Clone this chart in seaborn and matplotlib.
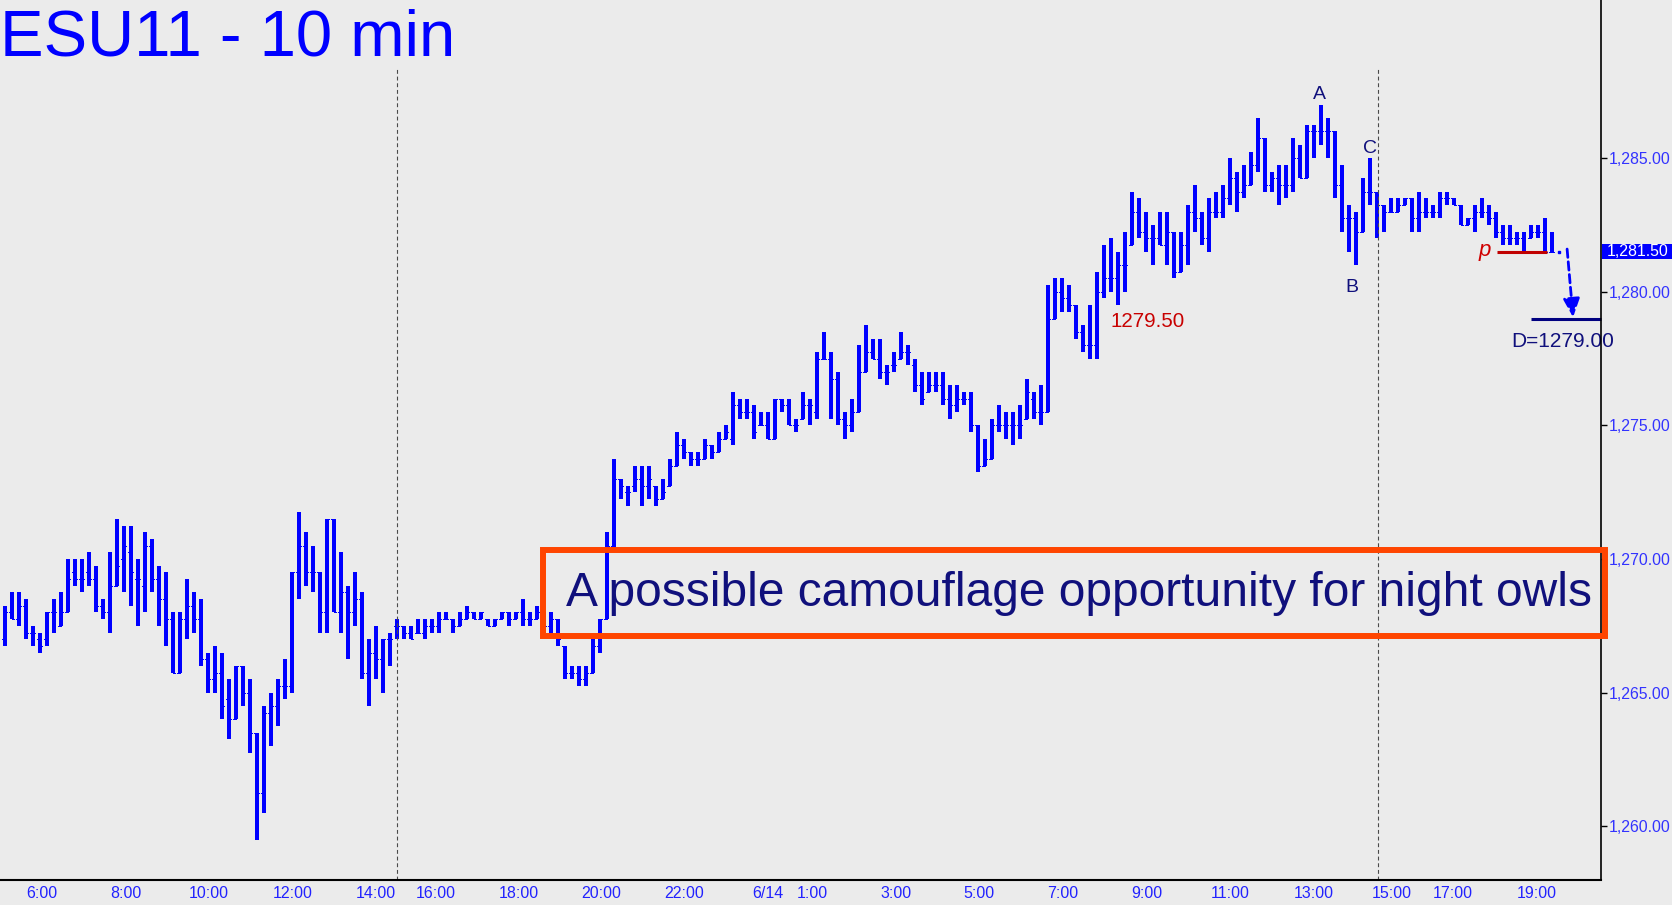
import matplotlib
matplotlib.use("Agg")
import matplotlib.pyplot as plt
import matplotlib.patches as mpatches
import matplotlib.transforms as mtransforms
from matplotlib.ticker import FuncFormatter
import numpy as np
import pandas as pd
import seaborn as sns

# Theme first, fonts after (set_theme resets font.family)
sns.set_theme(style="white")
plt.rcParams["font.family"] = ["Liberation Sans", "DejaVu Sans"]

# ==========================================
# DATA: ESU11 10-minute bars
# ==========================================
highs = [
    1268.25, 1268.75, 1268.75, 1268.5, 1267.5, 1267.25, 1268.0, 1268.5, 1268.75, 1270.0,
    1270.0, 1270.0, 1270.25, 1269.75, 1268.5, 1270.25, 1271.5, 1271.25, 1271.25, 1270.0,
    1271.0, 1270.75, 1269.75, 1269.5, 1268.0, 1268.0, 1269.25, 1268.75, 1268.5, 1266.5,
    1266.75, 1266.5, 1265.5, 1266.0, 1266.0, 1265.5, 1263.5, 1264.5, 1265.0, 1265.5,
    1266.25, 1269.5, 1271.75, 1271.0, 1270.5, 1269.5, 1271.5, 1271.5, 1270.25, 1269.0,
    1269.5, 1268.75, 1267.0, 1267.5, 1267.0, 1267.25, 1267.75, 1267.5, 1267.5, 1267.75,
    1267.75, 1267.75, 1268.0, 1268.0, 1267.75, 1268.0, 1268.25, 1268.0, 1268.0, 1267.75,
    1267.75, 1268.0, 1268.0, 1268.0, 1268.5, 1268.0, 1268.25, 1268.0, 1268.0, 1267.75,
    1266.75, 1266.0, 1266.0, 1266.0, 1267.0, 1267.75, 1271.0, 1273.75, 1273.0, 1272.75,
    1273.5, 1273.5, 1273.5, 1272.75, 1273.0, 1273.75, 1274.75, 1274.5, 1274.0, 1274.0,
    1274.5, 1274.25, 1274.75, 1275.0, 1276.25, 1276.0, 1276.0, 1275.75, 1275.5, 1275.5,
    1276.0, 1276.0, 1276.0, 1275.25, 1276.25, 1276.0, 1277.75, 1278.5, 1277.75, 1277.0,
    1275.5, 1276.0, 1278.0, 1278.75, 1278.25, 1278.25, 1277.25, 1277.75, 1278.5, 1278.0,
    1277.5, 1277.0, 1277.0, 1277.0, 1277.0, 1276.5, 1276.5, 1276.25, 1276.25, 1275.0,
    1274.5, 1275.25, 1275.75, 1275.5, 1275.5, 1275.75, 1276.75, 1276.25, 1276.5, 1280.25,
    1280.5, 1280.5, 1280.25, 1279.5, 1278.75, 1279.5, 1280.75, 1281.75, 1282.0, 1281.5,
    1282.25, 1283.75, 1283.5, 1283.0, 1282.5, 1283.0, 1283.0, 1282.25, 1282.25, 1283.25,
    1284.0, 1283.0, 1283.5, 1283.75, 1284.0, 1285.0, 1284.5, 1284.75, 1285.25, 1286.5,
    1285.75, 1284.5, 1284.75, 1284.75, 1285.75, 1285.5, 1286.25, 1286.25, 1287.0, 1286.5,
    1286.0, 1284.75, 1283.25, 1283.0, 1284.25, 1285.0, 1283.75, 1283.25, 1283.5, 1283.5,
    1283.5, 1283.5, 1283.75, 1283.5, 1283.25, 1283.75, 1283.75, 1283.5, 1283.25, 1282.75,
    1283.25, 1283.5, 1283.25, 1283.0, 1282.5, 1282.5, 1282.25, 1282.25, 1282.5, 1282.5,
    1282.75, 1282.25,
]

lows = [
    1266.75, 1267.75, 1267.5, 1267.0, 1266.75, 1266.5, 1266.75, 1267.25, 1267.5, 1268.0,
    1269.0, 1268.75, 1269.0, 1268.0, 1267.75, 1267.25, 1269.0, 1268.75, 1268.25, 1267.5,
    1268.0, 1268.75, 1267.5, 1266.75, 1265.75, 1265.75, 1267.0, 1267.25, 1266.0, 1265.0,
    1265.0, 1264.0, 1263.25, 1264.0, 1264.5, 1262.75, 1259.5, 1260.5, 1263.0, 1263.75,
    1264.75, 1265.0, 1268.5, 1269.0, 1268.75, 1267.25, 1267.25, 1268.0, 1267.25, 1266.25,
    1267.5, 1265.5, 1264.5, 1265.5, 1265.0, 1266.0, 1267.0, 1267.0, 1267.0, 1267.25,
    1267.0, 1267.25, 1267.25, 1267.75, 1267.25, 1267.5, 1267.75, 1267.75, 1267.75, 1267.5,
    1267.5, 1267.75, 1267.5, 1267.75, 1267.5, 1267.5, 1267.75, 1267.25, 1267.25, 1266.75,
    1265.5, 1265.5, 1265.25, 1265.25, 1265.75, 1266.5, 1267.75, 1270.25, 1272.25, 1272.0,
    1272.5, 1272.0, 1272.25, 1272.0, 1272.25, 1272.75, 1273.5, 1273.75, 1273.5, 1273.5,
    1273.75, 1273.75, 1274.0, 1274.5, 1274.25, 1275.25, 1275.25, 1274.5, 1275.0, 1274.5,
    1274.5, 1275.5, 1275.0, 1274.75, 1275.25, 1275.0, 1275.25, 1277.5, 1275.25, 1275.0,
    1274.5, 1274.75, 1275.5, 1277.0, 1277.5, 1276.75, 1276.5, 1277.0, 1277.5, 1277.25,
    1276.25, 1275.75, 1276.25, 1276.25, 1275.75, 1275.25, 1275.5, 1275.75, 1274.75, 1273.25,
    1273.5, 1273.75, 1274.75, 1274.5, 1274.25, 1274.5, 1275.25, 1275.25, 1275.0, 1275.5,
    1279.0, 1279.25, 1279.25, 1278.25, 1277.75, 1277.5, 1277.5, 1279.75, 1280.0, 1279.5,
    1280.0, 1281.75, 1282.0, 1281.5, 1281.0, 1281.75, 1281.0, 1280.5, 1280.75, 1281.0,
    1282.25, 1281.75, 1281.5, 1282.75, 1282.75, 1283.25, 1283.0, 1283.5, 1284.0, 1284.5,
    1283.75, 1283.75, 1283.25, 1283.5, 1283.75, 1284.25, 1284.25, 1285.0, 1285.5, 1285.0,
    1283.5, 1282.25, 1281.5, 1281.0, 1282.25, 1283.25, 1282.0, 1282.25, 1283.0, 1283.0,
    1283.25, 1282.25, 1282.25, 1282.75, 1282.75, 1282.75, 1283.25, 1283.25, 1282.5, 1282.5,
    1282.25, 1282.75, 1282.5, 1282.0, 1281.75, 1281.75, 1281.75, 1281.5, 1282.0, 1282.0,
    1281.5, 1281.5,
]

opens = [
    1267.0, 1268.0, 1267.75, 1268.25, 1267.25, 1267.0, 1267.0, 1268.0, 1267.5, 1268.0,
    1269.5, 1269.25, 1269.5, 1269.25, 1268.25, 1268.0, 1269.0, 1270.0, 1270.25, 1269.25,
    1269.0, 1270.5, 1269.25, 1268.5, 1267.75, 1265.75, 1267.75, 1268.25, 1267.75, 1266.25,
    1265.5, 1265.75, 1264.75, 1264.0, 1266.0, 1265.0, 1263.5, 1261.25, 1264.25, 1264.5,
    1265.25, 1265.25, 1269.5, 1270.5, 1269.5, 1269.5, 1268.0, 1271.5, 1268.0, 1268.75,
    1268.0, 1268.5, 1265.75, 1266.5, 1266.25, 1267.0, 1267.5, 1267.5, 1267.25, 1267.25,
    1267.25, 1267.5, 1267.5, 1267.75, 1267.75, 1267.5, 1267.75, 1268.0, 1267.75, 1267.75,
    1267.5, 1267.75, 1268.0, 1267.75, 1268.0, 1267.75, 1267.75, 1268.0, 1267.5, 1267.75,
    1266.75, 1265.75, 1265.75, 1265.5, 1265.75, 1266.75, 1267.75, 1270.5, 1273.0, 1272.5,
    1272.75, 1273.0, 1272.75, 1272.75, 1272.25, 1272.75, 1273.5, 1274.25, 1274.0, 1273.75,
    1273.75, 1274.25, 1274.0, 1274.5, 1274.5, 1275.75, 1275.5, 1275.5, 1275.0, 1275.0,
    1274.5, 1276.0, 1275.75, 1275.0, 1275.25, 1275.75, 1275.5, 1277.5, 1277.5, 1276.75,
    1275.25, 1275.0, 1275.5, 1277.0, 1277.75, 1277.5, 1277.0, 1277.25, 1277.5, 1277.75,
    1277.25, 1276.5, 1276.25, 1276.5, 1276.5, 1276.0, 1275.75, 1276.0, 1276.0, 1275.0,
    1273.5, 1273.75, 1275.0, 1275.0, 1275.0, 1275.0, 1275.25, 1276.0, 1275.5, 1275.5,
    1279.0, 1280.0, 1279.75, 1279.5, 1278.5, 1278.0, 1278.0, 1280.0, 1280.5, 1280.5,
    1281.0, 1281.75, 1283.0, 1282.25, 1282.0, 1282.0, 1281.75, 1282.25, 1280.75, 1281.75,
    1283.0, 1282.75, 1282.0, 1283.0, 1283.0, 1283.5, 1284.25, 1283.75, 1284.0, 1284.75,
    1285.75, 1284.0, 1284.25, 1284.0, 1284.0, 1285.0, 1284.25, 1286.0, 1286.0, 1286.0,
    1286.0, 1284.0, 1282.75, 1282.75, 1282.25, 1283.75, 1283.75, 1283.25, 1283.0, 1283.0,
    1283.25, 1283.5, 1282.75, 1283.0, 1283.0, 1283.0, 1283.5, 1283.5, 1283.25, 1282.5,
    1282.75, 1283.0, 1283.0, 1282.75, 1282.25, 1282.0, 1282.0, 1282.0, 1282.0, 1282.25,
    1282.25, 1281.5,
]

closes = [
    1268.0, 1267.75, 1268.25, 1267.25, 1267.25, 1266.75, 1268.0, 1268.0, 1268.0, 1269.25,
    1269.25, 1269.25, 1269.25, 1268.25, 1268.0, 1269.0, 1269.75, 1270.5, 1269.5, 1269.25,
    1270.5, 1269.25, 1268.5, 1267.75, 1265.75, 1267.75, 1268.25, 1267.75, 1266.25, 1265.5,
    1265.75, 1264.5, 1264.0, 1266.0, 1265.0, 1263.5, 1261.25, 1264.25, 1264.5, 1265.25,
    1265.25, 1269.5, 1270.5, 1269.5, 1269.5, 1268.0, 1271.5, 1268.0, 1268.75, 1268.0,
    1268.5, 1265.75, 1266.5, 1266.25, 1267.0, 1267.0, 1267.5, 1267.25, 1267.0, 1267.25,
    1267.5, 1267.5, 1267.75, 1267.75, 1267.5, 1267.75, 1268.0, 1267.75, 1268.0, 1267.5,
    1267.75, 1268.0, 1267.75, 1268.0, 1267.75, 1267.75, 1268.0, 1267.5, 1267.75, 1267.0,
    1265.75, 1265.75, 1265.5, 1265.75, 1266.75, 1267.75, 1270.5, 1273.0, 1272.75, 1272.5,
    1273.0, 1272.75, 1273.0, 1272.25, 1272.5, 1273.5, 1274.25, 1274.0, 1273.75, 1273.75,
    1274.25, 1274.0, 1274.5, 1274.75, 1275.75, 1275.5, 1275.5, 1274.75, 1275.0, 1274.5,
    1276.0, 1275.75, 1275.0, 1275.0, 1275.75, 1275.75, 1277.5, 1277.5, 1276.75, 1275.25,
    1275.0, 1275.5, 1277.0, 1277.75, 1277.5, 1277.0, 1277.0, 1277.25, 1277.75, 1277.75,
    1276.5, 1276.0, 1276.5, 1276.5, 1276.0, 1275.75, 1276.0, 1276.0, 1275.0, 1273.5,
    1273.75, 1275.0, 1275.0, 1275.0, 1275.0, 1275.0, 1276.25, 1275.5, 1275.5, 1279.0,
    1280.0, 1279.75, 1279.5, 1278.5, 1278.0, 1278.0, 1280.0, 1280.5, 1280.5, 1281.0,
    1281.0, 1283.0, 1282.25, 1282.0, 1282.0, 1281.75, 1282.25, 1280.75, 1281.75, 1283.0,
    1282.75, 1282.0, 1283.0, 1283.0, 1283.5, 1284.25, 1283.75, 1284.0, 1284.75, 1285.75,
    1284.0, 1284.25, 1284.0, 1284.0, 1285.0, 1284.25, 1286.0, 1286.0, 1286.0, 1286.0,
    1284.0, 1282.75, 1282.75, 1282.25, 1283.75, 1283.75, 1283.25, 1283.0, 1283.0, 1283.25,
    1283.5, 1282.75, 1283.0, 1283.0, 1283.0, 1283.5, 1283.5, 1283.25, 1282.5, 1282.75,
    1283.0, 1283.0, 1282.75, 1282.25, 1282.0, 1282.0, 1282.0, 1281.5, 1282.25, 1282.25,
    1281.5, 1281.5,
]

# time-axis labels (bars are evenly spaced, sessions compressed)
time_labels = ["6:00", "8:00", "10:00", "12:00", "14:00", "16:00", "18:00", "20:00",
               "22:00", "6/14", "1:00", "3:00", "5:00", "7:00", "9:00", "11:00",
               "13:00", "15:00", "17:00", "19:00"]

# chart markup levels
pivot_p = 1281.50
target_d = 1279.00
caption = "A possible camouflage opportunity for night owls"
title = "ESU11 - 10 min"

# ---- layout (bar-index units) ----
label_pos = [5.3, 17.3, 29.2, 41.1, 53.0, 61.6, 73.4, 85.2, 97.0, 109.0,
             115.4, 127.3, 139.2, 151.2, 163.2, 175.1, 187.0, 198.2, 206.9, 218.8]
minor_pos = [11.2, 23.2, 35.1, 47.0, 60.6, 73.1, 85.0, 96.8, 109.0, 121.2,
             133.2, 145.1, 157.1, 169.2, 181.1, 193.1, 201.6, 213.4]
session_breaks = [56.0, 196.2]

BG = "#EBEBEB"
BAR = "#0000FF"
NAVY = "#10107C"
RED = "#C80000"

df = pd.DataFrame({"open": opens, "high": highs, "low": lows, "close": closes})
df["bar"] = np.arange(len(df))

# ==========================================
# FIGURE
# ==========================================
W, H = 1672, 905
fig = plt.figure(figsize=(W / 100, H / 100), dpi=100, facecolor=BG)
ax = fig.add_axes([0, 25 / H, 1600.5 / W, 880 / H], facecolor=BG)

# OHLC bars (crisp, like the original charting package)
ax.vlines(df["bar"], df["low"], df["high"], color=BAR, linewidth=1.45,
          antialiased=False)
ax.hlines(df["open"], df["bar"] - 0.36, df["bar"], color=BAR, linewidth=0.6,
          antialiased=False)
ax.hlines(df["close"], df["bar"], df["bar"] + 0.36, color=BAR, linewidth=0.6,
          antialiased=False)

# session separators
for sb in session_breaks:
    ax.axvline(sb, ymin=0, ymax=1 - 67 / 880, color="#4a4a4a",
               linewidth=0.8, linestyle=(0, (3.5, 2.5)))

ax.set_xlim(-0.67, 227.97)
ax.set_ylim(1257.99, 1290.92)

# axes / ticks
for side in ["top", "left"]:
    ax.spines[side].set_visible(False)
ax.spines["right"].set_color("black")
ax.spines["right"].set_linewidth(1.2)
ax.spines["bottom"].set_color("black")
ax.spines["bottom"].set_linewidth(1.5)

ax.yaxis.tick_right()
ax.set_yticks(np.arange(1260, 1286, 5))
ax.yaxis.set_major_formatter(FuncFormatter(lambda v, _: f"{v:,.2f}"))
ax.tick_params(axis="y", direction="out", length=4, width=1, color="black",
               labelcolor="#3333FF", labelsize=11.4, pad=2)

ax.set_xticks(label_pos)
ax.set_xticklabels(time_labels)
ax.set_xticks(minor_pos, minor=True)
ax.tick_params(axis="x", which="major", length=0, labelcolor="#2222FF",
               labelsize=11.5, pad=4.5)
ax.tick_params(axis="x", which="minor", direction="in", length=3, width=1,
               color="black")
ax.grid(False)

# ABC labels
peak = int(df["high"].idxmax())
b_idx = 193
c_idx = 195
ax.text(peak - 0.2, df["high"][peak] + 0.22, "A", color=NAVY, fontsize=14,
        ha="center", va="baseline")
ax.text(b_idx - 0.6, df["low"][b_idx] - 1.0, "B", color=NAVY, fontsize=14,
        ha="center", va="baseline")
ax.text(c_idx, df["high"][c_idx] + 0.2, "C", color=NAVY, fontsize=14,
        ha="center", va="baseline")

# swing-low note
low_idx = 159
ax.text(low_idx - 1.1, df["low"][low_idx] - 0.8, f"{df['low'][low_idx]:.2f}",
        color=RED, fontsize=14.8, ha="left", va="baseline")

# pivot line "p"
ax.hlines(pivot_p, 213.2, 220.3, color="#C00000", linewidth=2.2)
ax.text(212.3, pivot_p - 0.17, "p", color="#D00000", fontsize=16,
        style="italic", ha="right", va="baseline")

# projection to D
n = len(df)
ax.plot([n + 0.05], [closes[-1]], marker="s", markersize=1.6, color=BAR)
ax.annotate("", xy=(n + 2.05, target_d + 0.05), xytext=(n + 1.2, closes[-1] + 0.1),
            arrowprops=dict(arrowstyle="-|>,head_length=0.8,head_width=0.36",
                            linestyle=(0, (3, 1.6)), linewidth=2, color=BAR,
                            mutation_scale=14, shrinkA=0, shrinkB=0),
            annotation_clip=False)
ax.hlines(target_d, 218.1, 227.97, color="#000080", linewidth=2.2, clip_on=False)
ax.text(222.6, target_d - 1.05, f"D={target_d:.2f}", color=NAVY, fontsize=15,
        ha="center", va="baseline", clip_on=False, zorder=2)

# last price tag on the axis
blend = mtransforms.blended_transform_factory(fig.transFigure, ax.transData)
tag = mpatches.Rectangle((1601.5 / W, closes[-1] - 0.29), 70.5 / W, 0.58,
                         transform=blend, facecolor="#0000FF", edgecolor="none",
                         clip_on=False, zorder=4)
ax.add_patch(tag)
ax.text(1607 / W, closes[-1], f"{closes[-1]:,.2f}", transform=blend,
        color="white", fontsize=11.4, ha="left", va="center", clip_on=False,
        zorder=5)

# title
fig.text(0.0, 1 - 55 / H, title, color="#0000FF", fontsize=47,
         ha="left", va="baseline")

# caption box
fig.add_artist(mpatches.Rectangle((543 / W, (H - 636) / H), (1604.5 - 543) / W,
                                  86 / H, transform=fig.transFigure, fill=False,
                                  edgecolor="#FF4500", linewidth=4.3, zorder=5))
fig.text(1079.5 / W, (H - 606) / H, caption, color=NAVY, fontsize=34.5,
         ha="center", va="baseline", zorder=6)

fig.savefig("out.png", dpi=100, facecolor=BG)
